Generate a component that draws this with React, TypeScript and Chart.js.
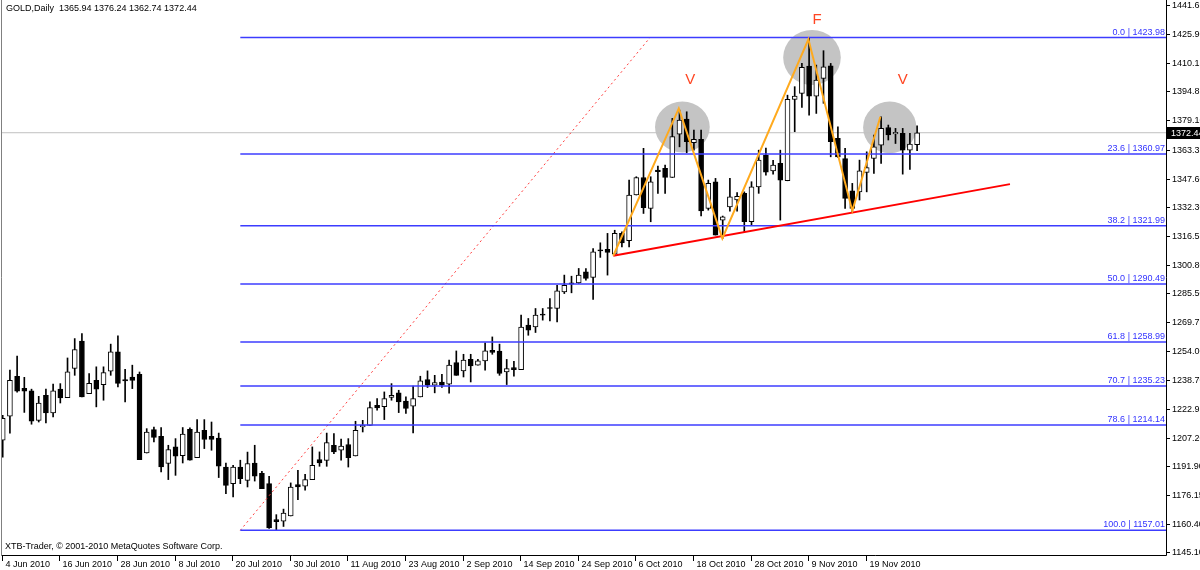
import React, { useEffect, useRef } from 'react';
import { Chart, registerables } from 'chart.js';

Chart.register(...registerables);

// ---------- data (daily OHLC, bar index 0 = 4 Jun 2010) ----------
const OPEN = [
  1205.8, 1218.8, 1240.5, 1234.0, 1232.6, 1216.6, 1230.2, 1220.6, 1233.5, 1228.9,
  1244.7, 1259.5, 1231.1, 1238.3, 1235.9, 1243.2, 1253.7, 1238.7, 1240.1, 1241.6,
  1198.9, 1211.6, 1207.9, 1193.2, 1202.2, 1197.4, 1211.8, 1196.4, 1211.2, 1207.9,
  1207.0, 1191.3, 1182.3, 1191.3, 1184.1, 1193.5, 1187.9, 1182.3, 1162.8, 1162.0,
  1164.8, 1181.8, 1180.9, 1184.5, 1195.3, 1194.9, 1203.1, 1200.4, 1203.5, 1197.3,
  1213.0, 1213.9, 1224.8, 1224.0, 1229.0, 1231.5, 1227.1, 1224.3, 1229.3, 1238.7,
  1235.6, 1237.4, 1236.2, 1247.9, 1243.4, 1249.7, 1246.5, 1248.8, 1254.6, 1254.1,
  1242.8, 1245.2, 1244.1, 1268.2, 1267.2, 1274.1, 1277.7, 1277.2, 1286.2, 1291.1,
  1291.1, 1297.1, 1294.0, 1308.8, 1309.2, 1306.6, 1317.9, 1313.9, 1338.7, 1348.2,
  1331.4, 1352.2, 1353.1, 1348.2, 1371.7, 1379.8, 1367.0, 1368.8, 1331.4, 1345.9,
  1325.1, 1332.3, 1336.0, 1339.6, 1324.2, 1343.1, 1360.3, 1351.8, 1355.8, 1346.4,
  1390.5, 1393.8, 1408.6, 1392.3, 1401.9, 1408.7, 1369.4, 1358.5, 1340.9, 1340.4,
  1351.0, 1358.5, 1365.7, 1375.3, 1371.8, 1372.1, 1363.0, 1365.94,
];
const HIGH = [
  1219.3, 1243.8, 1251.4, 1239.9, 1233.5, 1229.6, 1233.5, 1236.2, 1236.5, 1250.4,
  1260.9, 1263.6, 1242.0, 1245.6, 1245.6, 1257.9, 1262.4, 1244.2, 1246.5, 1242.8,
  1212.1, 1213.0, 1212.7, 1203.1, 1206.7, 1212.7, 1212.5, 1217.0, 1217.0, 1215.7,
  1209.7, 1193.5, 1192.2, 1195.0, 1199.4, 1203.1, 1189.0, 1186.3, 1165.5, 1168.5,
  1182.7, 1189.5, 1187.4, 1202.2, 1199.5, 1209.7, 1209.4, 1206.4, 1206.7, 1216.1,
  1216.6, 1226.6, 1228.4, 1232.0, 1236.5, 1232.9, 1229.3, 1235.1, 1240.5, 1243.4,
  1241.0, 1241.6, 1249.2, 1254.2, 1252.4, 1252.4, 1249.7, 1258.6, 1261.8, 1257.9,
  1249.6, 1248.6, 1273.6, 1271.8, 1277.2, 1277.2, 1282.6, 1289.8, 1295.3, 1294.7,
  1298.9, 1298.9, 1309.7, 1312.8, 1317.9, 1319.6, 1318.8, 1346.8, 1348.6, 1364.0,
  1348.6, 1354.4, 1354.9, 1380.2, 1384.7, 1383.8, 1373.9, 1373.9, 1346.8, 1347.7,
  1327.3, 1347.7, 1340.0, 1340.4, 1345.9, 1363.0, 1364.1, 1357.5, 1363.0, 1392.8,
  1397.4, 1410.0, 1423.98, 1409.1, 1416.9, 1410.0, 1375.7, 1364.0, 1345.0, 1357.6,
  1362.1, 1371.2, 1381.1, 1376.6, 1374.8, 1374.8, 1372.1, 1376.24,
];
const LOW = [
  1196.6, 1209.6, 1231.8, 1220.9, 1214.5, 1215.7, 1215.2, 1218.5, 1226.0, 1228.9,
  1241.0, 1229.3, 1231.1, 1223.9, 1227.5, 1241.0, 1234.7, 1226.6, 1233.8, 1195.3,
  1198.9, 1204.9, 1188.6, 1184.5, 1186.8, 1193.5, 1195.0, 1196.4, 1201.3, 1200.4,
  1185.6, 1176.9, 1175.1, 1182.3, 1180.5, 1183.7, 1179.6, 1158.0, 1157.01, 1159.1,
  1164.8, 1173.6, 1178.7, 1184.5, 1191.7, 1191.7, 1198.6, 1195.0, 1191.3, 1197.3,
  1210.3, 1213.9, 1222.1, 1217.0, 1227.5, 1220.8, 1220.3, 1209.8, 1229.3, 1234.4,
  1231.5, 1234.4, 1231.3, 1241.0, 1240.1, 1237.4, 1246.5, 1243.8, 1252.4, 1241.0,
  1236.0, 1240.5, 1244.1, 1262.7, 1264.2, 1270.9, 1270.5, 1269.9, 1285.3, 1285.7,
  1290.8, 1292.6, 1282.1, 1304.9, 1295.3, 1306.6, 1310.6, 1310.6, 1338.7, 1328.7,
  1324.2, 1339.6, 1339.6, 1348.2, 1364.8, 1361.6, 1363.0, 1327.3, 1330.5, 1317.0,
  1315.2, 1330.0, 1330.0, 1318.7, 1322.4, 1339.6, 1349.5, 1350.0, 1325.1, 1346.4,
  1373.0, 1386.2, 1382.0, 1382.9, 1388.4, 1359.4, 1359.1, 1331.4, 1329.6, 1336.0,
  1340.4, 1350.4, 1355.8, 1368.5, 1366.6, 1350.0, 1352.6, 1362.74,
];
const CLOSE = [
  1217.7, 1238.3, 1232.4, 1232.4, 1216.1, 1226.0, 1220.6, 1232.6, 1228.8, 1242.9,
  1255.0, 1229.3, 1236.6, 1233.5, 1242.5, 1253.7, 1236.6, 1238.0, 1238.3, 1195.3,
  1210.3, 1207.3, 1191.3, 1200.8, 1197.2, 1209.1, 1195.0, 1210.3, 1206.2, 1206.2,
  1191.8, 1181.4, 1191.3, 1185.0, 1193.2, 1186.3, 1179.6, 1158.3, 1161.7, 1166.4,
  1180.5, 1180.5, 1184.5, 1192.2, 1193.5, 1204.5, 1199.5, 1202.7, 1196.4, 1211.2,
  1213.9, 1223.5, 1223.3, 1228.4, 1230.2, 1226.6, 1223.0, 1228.4, 1238.0, 1235.6,
  1237.1, 1235.6, 1246.5, 1241.0, 1249.2, 1246.1, 1248.8, 1254.2, 1253.4, 1242.0,
  1244.6, 1244.1, 1267.2, 1265.5, 1273.6, 1273.6, 1277.2, 1286.8, 1289.8, 1290.4,
  1295.3, 1293.5, 1307.9, 1308.4, 1307.6, 1317.9, 1312.8, 1338.7, 1348.2, 1331.9,
  1345.9, 1351.3, 1348.2, 1370.3, 1379.3, 1367.6, 1368.8, 1330.1, 1345.0, 1317.0,
  1326.9, 1337.7, 1338.0, 1324.2, 1343.1, 1357.6, 1351.1, 1354.9, 1346.8, 1390.5,
  1392.3, 1407.9, 1392.3, 1401.0, 1408.2, 1367.6, 1359.4, 1336.9, 1331.4, 1351.8,
  1353.5, 1364.8, 1374.8, 1371.2, 1372.7, 1363.0, 1366.3, 1372.44,
];

const X_TICK_BARS = [0, 8, 16, 24, 32, 40, 48, 56, 64, 72, 80, 88, 96, 104, 112, 120];
const X_TICK_LABELS = [
  '4 Jun 2010', '16 Jun 2010', '28 Jun 2010', '8 Jul 2010', '20 Jul 2010', '30 Jul 2010',
  '11 Aug 2010', '23 Aug 2010', '2 Sep 2010', '14 Sep 2010', '24 Sep 2010', '6 Oct 2010',
  '18 Oct 2010', '28 Oct 2010', '9 Nov 2010', '19 Nov 2010',
];
const Y_TICKS = [
  1441.65, 1425.9, 1410.15, 1394.85, 1379.1, 1363.35, 1347.6, 1332.3, 1316.55, 1300.8,
  1285.5, 1269.75, 1254.0, 1238.7, 1222.95, 1207.2, 1191.9, 1176.15, 1160.4, 1145.1,
];

const FIB_LEVELS = [1423.98, 1360.97, 1321.99, 1290.49, 1258.99, 1235.23, 1214.14, 1157.01];
const FIB_PCTS = ['0.0', '23.6', '38.2', '50.0', '61.8', '70.7', '78.6', '100.0'];
const FIB_START_BAR = 33;

const LAST_PRICE = 1372.44;
const TITLE = 'GOLD,Daily';
const FOOTER = 'XTB-Trader, \u00A9 2001-2010 MetaQuotes Software Corp.';

const TREND_X = [33, 89.9];
const TREND_Y = [1157.01, 1423.98];
const SUPPORT_X = [84.8, 139.9];
const SUPPORT_Y = [1305.8, 1344.6];
const ZIGZAG_X = [84.8, 93.9, 99.95, 111.9, 118.0, 121.9];
const ZIGZAG_Y = [1305.8, 1385.6, 1315.2, 1423.05, 1330.1, 1381.1];

const MARK_TEXT = ['V', 'F', 'V'];
const MARK_X = [95.5, 113.1, 125.0];
const MARK_Y = [1401.0, 1433.5, 1401.0];

const ELLIPSE_X = [94.4, 112.4, 123.2];
const ELLIPSE_Y = [1375.5, 1413.2, 1375.3];
const ELLIPSE_RX = [3.8, 4.0, 3.7];
const ELLIPSE_RY = [13.8, 14.9, 14.0];

const X_MIN = -0.1;
const X_MAX = 161.57;
const Y_MIN = 1143.64;
const Y_MAX = 1444.36;

const FONT_FAMILY = '"Liberation Sans", Arial, sans-serif';

export default function App() {
  const ref = useRef<HTMLCanvasElement | null>(null);

  useEffect(() => {
    const canvas = ref.current;
    if (!canvas) return;
    const bars = OPEN.map((_, i) => i);

    const overlayPlugin = {
      id: 'overlay',
      beforeDatasetsDraw(chart: any) {
        const { ctx, chartArea } = chart;
        const xs = chart.scales.x;
        const ys = chart.scales.y;
        ctx.save();
        ctx.beginPath();
        ctx.rect(chartArea.left, chartArea.top, chartArea.right - chartArea.left, chartArea.bottom - chartArea.top);
        ctx.clip();
        ctx.fillStyle = 'rgb(196,196,196)';
        for (let k = 0; k < ELLIPSE_X.length; k++) {
          const cx = xs.getPixelForValue(ELLIPSE_X[k]);
          const cy = ys.getPixelForValue(ELLIPSE_Y[k]);
          const rx = Math.abs(xs.getPixelForValue(ELLIPSE_X[k] + ELLIPSE_RX[k]) - cx);
          const ry = Math.abs(ys.getPixelForValue(ELLIPSE_Y[k] + ELLIPSE_RY[k]) - cy);
          ctx.beginPath();
          ctx.ellipse(cx, cy, rx, ry, 0, 0, Math.PI * 2);
          ctx.fill();
        }
        ctx.restore();
      },
      afterDraw(chart: any) {
        const { ctx, chartArea } = chart;
        const xs = chart.scales.x;
        const ys = chart.scales.y;
        const L = chartArea.left;
        const R = chartArea.right;
        const B = chartArea.bottom;
        ctx.save();
        // frame
        ctx.strokeStyle = '#000';
        ctx.lineWidth = 1;
        ctx.beginPath();
        ctx.moveTo(Math.round(R) + 0.5, 0);
        ctx.lineTo(Math.round(R) + 0.5, Math.round(B) + 0.5);
        ctx.lineTo(Math.round(L) - 0.5, Math.round(B) + 0.5);
        ctx.stroke();
        ctx.strokeStyle = '#808080';
        ctx.beginPath();
        ctx.moveTo(Math.round(L) - 0.5, 0);
        ctx.lineTo(Math.round(L) - 0.5, Math.round(B) + 0.5);
        ctx.stroke();

        ctx.font = `9px ${FONT_FAMILY}`;
        ctx.fillStyle = '#000';
        ctx.strokeStyle = '#000';
        // y ticks
        ctx.textAlign = 'left';
        ctx.textBaseline = 'middle';
        for (const v of Y_TICKS) {
          const py = Math.round(ys.getPixelForValue(v)) + 0.5;
          ctx.beginPath();
          ctx.moveTo(Math.round(R), py);
          ctx.lineTo(Math.round(R) + 4, py);
          ctx.stroke();
          ctx.fillText(v.toFixed(2), Math.round(R) + 6, py);
        }
        // x ticks
        X_TICK_BARS.forEach((b, k) => {
          const px = Math.round(xs.getPixelForValue(b)) - 0.5;
          ctx.beginPath();
          ctx.moveTo(px, Math.round(B) + 1);
          ctx.lineTo(px, Math.round(B) + 6);
          ctx.stroke();
          ctx.fillText(X_TICK_LABELS[k], px + 3, Math.round(B) + 9.5);
        });
        // last price box
        const lp = ys.getPixelForValue(LAST_PRICE);
        ctx.fillStyle = '#000';
        ctx.fillRect(Math.round(R) + 1, Math.round(lp) - 6, 40, 12);
        ctx.fillStyle = '#fff';
        ctx.fillText(LAST_PRICE.toFixed(2), Math.round(R) + 5, Math.round(lp) + 0.5);

        // header & footer
        ctx.fillStyle = '#000';
        ctx.fillText(TITLE + '  ' + [OPEN, HIGH, LOW, CLOSE].map((a) => a[a.length - 1].toFixed(2)).join(' '), 6, 9);
        ctx.fillText(FOOTER, 5, 547);

        // fib labels
        ctx.fillStyle = 'rgb(50,50,255)';
        ctx.textAlign = 'right';
        ctx.textBaseline = 'alphabetic';
        FIB_LEVELS.forEach((v, k) => {
          const py = ys.getPixelForValue(v);
          ctx.fillText(`${FIB_PCTS[k]} | ${v.toFixed(2)}`, R - 1, py - 3);
        });

        // pattern marks
        ctx.fillStyle = 'rgb(255,70,35)';
        ctx.textAlign = 'center';
        ctx.textBaseline = 'middle';
        ctx.font = `15px ${FONT_FAMILY}`;
        MARK_TEXT.forEach((t, k) => {
          ctx.fillText(t, xs.getPixelForValue(MARK_X[k]), ys.getPixelForValue(MARK_Y[k]));
        });
        ctx.restore();
      },
    };

    const line = (xsArr: number[], ysArr: number[], color: string, width: number, order: number, dash: number[] = []) => ({
      type: 'line' as const,
      data: xsArr.map((x, i) => ({ x, y: ysArr[i] })),
      borderColor: color,
      borderWidth: width,
      borderDash: dash,
      pointRadius: 0,
      tension: 0,
      fill: false,
      order,
    });

    const datasets: any[] = [
      line([X_MIN, X_MAX], [LAST_PRICE, LAST_PRICE], 'rgb(192,192,192)', 1, 5),
      {
        type: 'bar',
        label: 'wick',
        data: bars.map((i) => ({ x: i, y: [LOW[i], HIGH[i]] })),
        backgroundColor: '#000',
        borderWidth: 0,
        barThickness: 1,
        grouped: false,
        order: 4,
      },
      {
        type: 'bar',
        label: 'body',
        data: bars.map((i) => ({ x: i, y: [OPEN[i], CLOSE[i]] })),
        backgroundColor: bars.map((i) => (CLOSE[i] >= OPEN[i] ? '#ffffff' : '#000000')),
        borderColor: '#000',
        borderWidth: 1,
        borderSkipped: false,
        barThickness: 5,
        minBarLength: 1,
        grouped: false,
        order: 3,
      },
      ...FIB_LEVELS.map((v) => line([FIB_START_BAR, X_MAX], [v, v], 'rgb(60,60,255)', 1.5, 2)),
      line(TREND_X, TREND_Y, 'rgb(255,60,60)', 1, 2, [2, 3]),
      line(SUPPORT_X, SUPPORT_Y, 'rgb(255,0,0)', 2, 1),
      line(ZIGZAG_X, ZIGZAG_Y, 'rgb(255,170,30)', 2, 0),
    ];

    const chart = new Chart(canvas, {
      type: 'bar',
      data: { datasets },
      options: {
        responsive: false,
        animation: false,
        layout: { padding: { left: 2, right: 34, top: 0, bottom: 15 } },
        scales: {
          x: { type: 'linear', min: X_MIN, max: X_MAX, offset: false, display: false },
          y: { type: 'linear', min: Y_MIN, max: Y_MAX, display: false },
        },
        plugins: { legend: { display: false }, tooltip: { enabled: false } },
        events: [],
      },
      plugins: [overlayPlugin],
    } as any);

    return () => chart.destroy();
  }, []);

  return (
    <div style={{ position: 'fixed', left: 0, top: 0, width: 1200, height: 570, background: '#fff' }}>
      <canvas ref={ref} width={1200} height={570} style={{ display: 'block' }} />
    </div>
  );
}
